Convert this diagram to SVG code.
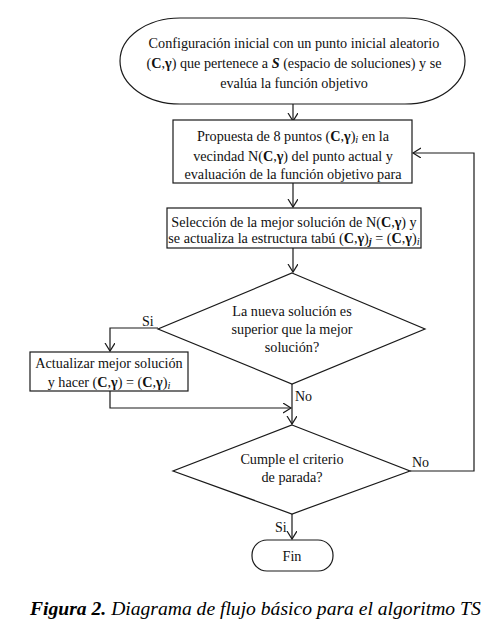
<svg xmlns="http://www.w3.org/2000/svg" width="500" height="627" viewBox="0 0 500 627">
<style>
.s{fill:#fff;stroke:#1a1a1a;stroke-width:1.2}
.t{font-family:"Liberation Serif","Times New Roman",serif;font-size:14.2px;fill:#111;text-anchor:middle}
.l{font-family:"Liberation Serif","Times New Roman",serif;font-size:14px;fill:#111}
.b{font-weight:bold}
.i{font-style:italic}
.sub{font-size:10.5px;font-style:italic}
.c{fill:none;stroke:#1a1a1a;stroke-width:1.2}
.cap{font-family:"Liberation Serif","Times New Roman",serif;font-size:19.6px;font-style:italic;fill:#000}
</style>
<defs>
<marker id="a" markerWidth="12" markerHeight="12" refX="8" refY="5" orient="auto" markerUnits="userSpaceOnUse">
<path d="M0,0 L8,5 L0,10" fill="none" stroke="#1a1a1a" stroke-width="1.2"/>
</marker>
</defs>
<rect width="500" height="627" fill="#fff"/>
<g id="connectors">
<path class="c" d="M293,104 V121" marker-end="url(#a)"/>
<path class="c" d="M293,183 V207" marker-end="url(#a)"/>
<path class="c" d="M293,248 V272" marker-end="url(#a)"/>
<path class="c" d="M158,328 H110 V351" marker-end="url(#a)"/>
<path class="c" d="M110,391 V408 H291" marker-end="url(#a)"/>
<path class="c" d="M292,384 V424" marker-end="url(#a)"/>
<path class="c" d="M410,471 H474 V153 H413" marker-end="url(#a)"/>
<path class="c" d="M292,514 V539" marker-end="url(#a)"/>
<text class="l" x="142" y="326">Si</text>
<text class="l" x="295" y="401">No</text>
<text class="l" x="412" y="467">No</text>
<text class="l" x="275" y="532">Si</text>
</g>
<g id="start">
<rect class="s" x="120" y="18" width="345" height="86" rx="60" ry="43"/>
<text class="t" x="294" y="48">Configuración inicial con un punto inicial aleatorio</text>
<text class="t" x="294" y="68">(<tspan class="b">C</tspan>,<tspan class="b">γ</tspan>) que pertenece a <tspan class="b i">S</tspan> (espacio de soluciones) y se</text>
<text class="t" x="294" y="88">evalúa la función objetivo</text>
</g>
<g id="proposal">
<rect class="s" x="173" y="120" width="239" height="63"/>
<text class="t" x="293" y="141">Propuesta de 8 puntos (<tspan class="b">C</tspan>,<tspan class="b">γ</tspan>)<tspan class="sub" dy="2">i</tspan><tspan dy="-2"> en la</tspan></text>
<text class="t" x="293" y="161">vecindad  N(<tspan class="b">C</tspan>,<tspan class="b">γ</tspan>) del punto actual y</text>
<text class="t" x="293" y="179">evaluación de la función objetivo para</text>
</g>
<g id="selection">
<rect class="s" x="167" y="208" width="254" height="40"/>
<text class="t" x="294" y="227">Selección de la mejor solución de N(<tspan class="b">C</tspan>,<tspan class="b">γ</tspan>) y</text>
<text class="t" x="294" y="243">se actualiza la estructura tabú (<tspan class="b">C</tspan>,<tspan class="b">γ</tspan>)<tspan class="sub b" dy="2">j</tspan><tspan dy="-2"> = (</tspan><tspan class="b">C</tspan>,<tspan class="b">γ</tspan>)<tspan class="sub" dy="2">i</tspan></text>
</g>
<g id="decision1">
<polygon class="s" points="292,273 425,329 292,384 158,329"/>
<text class="t" x="292" y="316">La nueva solución es</text>
<text class="t" x="292" y="334">superior que la mejor</text>
<text class="t" x="292" y="352">solución?</text>
</g>
<g id="update">
<rect class="s" x="30" y="352" width="158" height="39"/>
<text class="t" x="109" y="368">Actualizar mejor solución</text>
<text class="t" x="109" y="387">y hacer (<tspan class="b">C</tspan>,<tspan class="b">γ</tspan>) = (<tspan class="b">C</tspan>,<tspan class="b">γ</tspan>)<tspan class="sub" dy="2">i</tspan></text>
</g>
<g id="decision2">
<polygon class="s" points="292,425 410,471 292,514 173,471"/>
<text class="t" x="292" y="464">Cumple el criterio</text>
<text class="t" x="292" y="482">de parada?</text>
</g>
<g id="end">
<rect class="s" x="252" y="540" width="81" height="31" rx="15" ry="15"/>
<text class="t" x="292" y="561">Fin</text>
</g>
<text class="cap" x="30" y="615"><tspan font-weight="bold">Figura 2.</tspan> Diagrama de flujo básico para el algoritmo TS</text>
</svg>
